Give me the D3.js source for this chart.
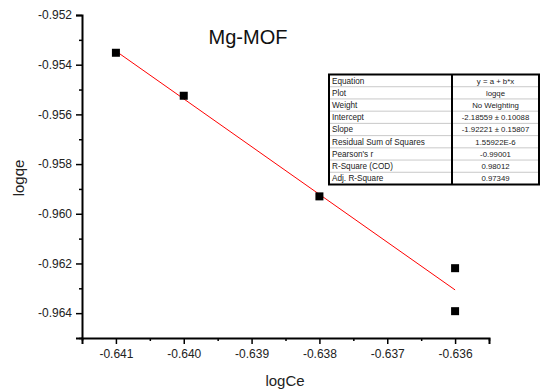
<!DOCTYPE html>
<html><head><meta charset="utf-8">
<script src="https://cdn.jsdelivr.net/npm/d3@7"></script>
<style>body{margin:0;background:#fff}svg{display:block}text{font-family:Arial,"Liberation Sans",sans-serif}</style>
</head><body><svg id="c" width="542" height="391"></svg>
<script>
const xValues = [-0.641, -0.640, -0.638, -0.636, -0.636];
const yValues = [-0.95352, -0.95525, -0.95930, -0.96219, -0.96392];
const xTicks = [-0.641, -0.640, -0.639, -0.638, -0.637, -0.636];
const yTicks = [-0.952, -0.954, -0.956, -0.958, -0.960, -0.962, -0.964];
const fitIntercept = -2.18559, fitSlope = -1.92221;
const fitRange = [-0.641, -0.636];
const tableLabels = ["Equation","Plot","Weight","Intercept","Slope","Residual Sum of Squares","Pearson's r","R-Square (COD)","Adj. R-Square"];
const tableValues = ["y = a + b*x","logqe","No Weighting","-2.18559 ± 0.10088","-1.92221 ± 0.15807","1.55922E-6","-0.99001","0.98012","0.97349"];

const svg = d3.select("#c");
const L = 82, R = 489, T = 15, B = 338;
const x = d3.scaleLinear().domain([-0.6415, -0.6355]).range([L, R]);
const y = d3.scaleLinear().domain([-0.965, -0.952]).range([B, T]);
const fmt = d => d3.format(".3f")(d).replace("−", "-");

const xMinor = d3.range(-0.6415, -0.6354, 0.0005).filter(v => !xTicks.some(t => Math.abs(t - v) < 1e-7));
const yMinor = d3.range(-0.965, -0.9519, 0.001).filter(v => !yTicks.some(t => Math.abs(t - v) < 1e-7));

const gx = svg.append("g").attr("transform", `translate(0,${B})`);
gx.call(d3.axisBottom(x).tickValues(xTicks).tickFormat(fmt).tickSizeOuter(0).tickSize(6).tickPadding(5));
gx.append("g").call(d3.axisBottom(x).tickValues(xMinor).tickFormat(() => "").tickSize(3).tickSizeOuter(0)).select(".domain").remove();
const gy = svg.append("g").attr("transform", `translate(${L},0)`);
gy.call(d3.axisLeft(y).tickValues(yTicks).tickFormat(fmt).tickSizeOuter(0).tickSize(6).tickPadding(4));
gy.append("g").call(d3.axisLeft(y).tickValues(yMinor).tickFormat(() => "").tickSize(3).tickSizeOuter(0)).select(".domain").remove();
svg.selectAll(".domain").attr("stroke", "#000").attr("stroke-width", 2);
svg.selectAll(".tick line").attr("stroke", "#000").attr("stroke-width", 1.5);
svg.selectAll(".tick text").attr("font-size", 12).attr("fill", "#222").attr("font-family", "Arial, 'Liberation Sans', sans-serif");

// fit line
svg.append("line")
  .attr("x1", x(fitRange[0])).attr("y1", y(fitIntercept + fitSlope * fitRange[0]))
  .attr("x2", x(fitRange[1])).attr("y2", y(fitIntercept + fitSlope * fitRange[1]))
  .attr("stroke", "#f00").attr("stroke-width", 1);

// points
svg.selectAll("rect.pt").data(xValues.map((v, i) => [v, yValues[i]])).join("rect")
  .attr("class", "pt").attr("x", d => x(d[0]) - 4).attr("y", d => y(d[1]) - 4)
  .attr("width", 8).attr("height", 8).attr("fill", "#000");

// titles
svg.append("text").attr("x", 248).attr("y", 44).attr("text-anchor", "middle").attr("font-size", 20).attr("fill", "#111").text("Mg-MOF");
svg.append("text").attr("x", 285).attr("y", 386).attr("text-anchor", "middle").attr("font-size", 15).attr("fill", "#222").text("logCe");
svg.append("text").attr("transform", "translate(24,178) rotate(-90)").attr("text-anchor", "middle").attr("font-size", 15).attr("fill", "#222").text("logqe");

// table
const tx0 = 329, tx1 = 539, tDiv = 452, ty0 = 74.5, ty1 = 184.5;
const rh = (ty1 - ty0) / tableLabels.length;
const tg = svg.append("g");
tableLabels.forEach((lab, i) => {
  const yy = ty0 + rh * i;
  if (i > 0) tg.append("line").attr("x1", tx0).attr("x2", tx1).attr("y1", yy).attr("y2", yy).attr("stroke", "#bbb").attr("stroke-width", 0.8);
  tg.append("text").attr("x", tx0 + 3).attr("y", yy + rh / 2 + 2.9).attr("font-size", 8.2).attr("fill", "#222").text(lab);
  tg.append("text").attr("x", (tDiv + tx1) / 2).attr("y", yy + rh / 2 + 2.9).attr("text-anchor", "middle").attr("font-size", 7.8).attr("fill", "#222").text(tableValues[i]);
});
tg.append("rect").attr("x", tx0).attr("y", ty0).attr("width", tx1 - tx0).attr("height", ty1 - ty0).attr("fill", "none").attr("stroke", "#000").attr("stroke-width", 2);
tg.append("line").attr("x1", tDiv).attr("x2", tDiv).attr("y1", ty0).attr("y2", ty1).attr("stroke", "#000").attr("stroke-width", 2);
</script></body></html>
